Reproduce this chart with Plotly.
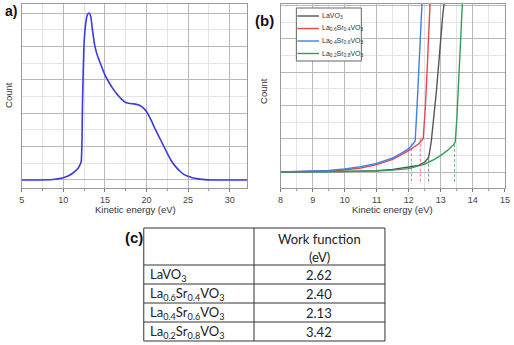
import plotly.graph_objects as go

W, H = 514, 345

# ---------------- data ----------------
# panel (a): single UPS spectrum
a_x = [5.0, 7.0, 8.5, 9.0, 9.5, 10.0, 10.5, 11.0, 11.5, 11.8, 12.0, 12.15, 12.25, 12.3, 12.4,
       12.5, 12.7, 12.9, 13.1, 13.3, 13.5, 13.8, 14.2, 14.6, 15.0, 15.5, 16.0, 16.5, 17.0,
       17.5, 18.0, 18.5, 19.0, 19.5, 20.0, 20.5, 21.0, 21.5, 22.0, 22.5, 23.0, 23.5, 24.0,
       24.5, 25.0, 25.5, 26.0, 27.0, 28.0, 32.1]
a_y = [0.0, 0.0, 0.005, 0.02, 0.04, 0.07, 0.11, 0.18, 0.28, 0.36, 0.45, 0.55, 1.2, 2.2, 3.3,
       4.1, 4.7, 4.95, 5.0, 4.9, 4.5, 4.0, 3.65, 3.4, 3.15, 2.92, 2.72, 2.56, 2.42,
       2.32, 2.29, 2.28, 2.25, 2.18, 2.05, 1.82, 1.55, 1.3, 1.05, 0.8, 0.57, 0.4, 0.27,
       0.17, 0.11, 0.07, 0.04, 0.01, 0.0, 0.0]
a_ticks = [5, 10, 15, 20, 25, 30]

# panel (b): secondary-electron cutoff region
series_names = ["LaVO<sub>3</sub>",
                "La<sub>0.6</sub>Sr<sub>0.4</sub>VO<sub>3</sub>",
                "La<sub>0.4</sub>Sr<sub>0.6</sub>VO<sub>3</sub>",
                "La<sub>0.2</sub>Sr<sub>0.8</sub>VO<sub>3</sub>"]
series_colors = ["#555555", "#e5474b", "#3f7fe6", "#2e9f5a"]

lavo_x = [8.0, 10.0, 11.0, 11.5, 12.0, 12.3, 12.5, 12.62, 12.7, 12.78, 12.86, 12.93, 13.0, 13.06, 13.12]
lavo_y = [0.0, 0.005, 0.02, 0.04, 0.075, 0.1, 0.15, 0.22, 0.45, 0.8, 1.2, 1.6, 2.05, 2.35, 2.6]

s04_x = [8.0, 9.0, 9.5, 10.0, 10.5, 11.0, 11.5, 12.0, 12.3, 12.45, 12.52, 12.58, 12.63, 12.67]
s04_y = [0.0, 0.008, 0.015, 0.03, 0.06, 0.11, 0.19, 0.32, 0.42, 0.5, 1.0, 1.6, 2.2, 2.6]

s06_x = [8.0, 9.0, 9.5, 10.0, 10.5, 11.0, 11.5, 11.8, 12.0, 12.15, 12.2, 12.26, 12.32, 12.37, 12.42]
s06_y = [0.0, 0.012, 0.025, 0.045, 0.08, 0.13, 0.21, 0.29, 0.35, 0.43, 0.47, 1.0, 1.6, 2.1, 2.6]

s08_x = [8.0, 10.0, 11.0, 11.5, 12.0, 12.5, 12.8, 13.0, 13.2, 13.4, 13.45, 13.5, 13.56, 13.6, 13.63, 13.68]
s08_y = [0.0, 0.004, 0.015, 0.028, 0.05, 0.12, 0.19, 0.25, 0.32, 0.41, 0.45, 0.8, 1.3, 1.8, 2.1, 2.6]

series_x = [lavo_x, s04_x, s06_x, s08_x]
series_y = [lavo_y, s04_y, s06_y, s08_y]

cutoff_x = [12.62, 12.36, 12.08, 13.43]
cutoff_top = [0.2, 0.5, 0.43, 0.42]
cutoff_bottom = -0.18
b_ticks = [8, 9, 10, 11, 12, 13, 14, 15]

# panel (c): table
table_header = ["", "Work function", "(eV)"]
table_names = ["LaVO<sub>3</sub>",
               "La<sub>0.6</sub>Sr<sub>0.4</sub>VO<sub>3</sub>",
               "La<sub>0.4</sub>Sr<sub>0.6</sub>VO<sub>3</sub>",
               "La<sub>0.2</sub>Sr<sub>0.8</sub>VO<sub>3</sub>"]
work_function = ["2.62", "2.40", "2.13", "3.42"]

# ---------------- helpers ----------------
def px(x):
    return x / W

def py(y):
    return 1 - y / H

fig = go.Figure()

fig.add_trace(go.Scatter(x=a_x, y=a_y, mode="lines", line=dict(color="#3b3bdc", width=1.6, shape="spline", smoothing=0.5),
                         xaxis="x", yaxis="y", showlegend=False))

for xs, ys, c in zip(series_x, series_y, series_colors):
    fig.add_trace(go.Scatter(x=xs, y=ys, mode="lines", line=dict(color=c, width=1.4),
                             xaxis="x2", yaxis="y2", showlegend=False))
for cx, ct, c in zip(cutoff_x, cutoff_top, series_colors):
    fig.add_trace(go.Scatter(x=[cx, cx], y=[ct, cutoff_bottom], mode="lines",
                             line=dict(color=c, width=1, dash="3px,2px"), opacity=0.7,
                             xaxis="x2", yaxis="y2", showlegend=False))

grid_major = "#b8b8b8"
grid_minor = "#e4e4e4"
frame = "#9a9a9a"
tickfont = dict(family="Arial, Liberation Sans", size=9, color="#444444")

def xax(domain, rng, ticks, dtick_minor, anchor):
    return dict(domain=domain, range=rng, anchor=anchor, tickvals=ticks, ticks="outside", ticklen=3,
                tickcolor="#777", tickfont=tickfont, showgrid=True, gridcolor=grid_major, gridwidth=1,
                showline=True, linecolor=frame, linewidth=1, mirror=True, zeroline=False,
                ticklabeloverflow="allow",
                minor=dict(dtick=dtick_minor, showgrid=True, gridcolor=grid_minor, ticks="outside", ticklen=2, tickcolor="#999"))

def yax(domain, rng, anchor, dtick, dminor):
    return dict(domain=domain, range=rng, anchor=anchor, dtick=dtick, showticklabels=False, ticks="",
                showgrid=True, gridcolor=grid_major, gridwidth=1, showline=True, linecolor=frame,
                linewidth=1, mirror=True, zeroline=False,
                minor=dict(dtick=dminor, showgrid=True, gridcolor=grid_minor))

fig.update_layout(
    width=W, height=H, margin=dict(l=0, r=0, t=0, b=0),
    paper_bgcolor="white", plot_bgcolor="white",
    xaxis=xax([px(19), px(248)], [5, 32.1], a_ticks, 2.5, "y"),
    yaxis=yax([py(188), py(4)], [-0.24, 5.27], "x", 1, 0.5),
    xaxis2=xax([px(282), px(510)], [8, 15.005], b_ticks, 0.5, "y2"),
    yaxis2=yax([py(188), py(4)], [-0.24, 2.52], "x2", 0.5, 0.25),
)

# legend for panel b (drawn by hand to match compact box)
shapes = [dict(type="rect", xref="paper", yref="paper", x0=px(298), x1=px(364), y0=py(61), y1=py(8),
               line=dict(color="#666666", width=1), fillcolor="white")]
leg_y = [16, 28.5, 41, 53.5]
annotations = []
for name, c, ly in zip(series_names, series_colors, leg_y):
    shapes.append(dict(type="line", xref="paper", yref="paper", x0=px(299), x1=px(321), y0=py(ly), y1=py(ly),
                       line=dict(color=c, width=1.4)))
    annotations.append(dict(text=name, xref="paper", yref="paper", x=px(322), y=py(ly), xanchor="left",
                            yanchor="middle", showarrow=False, font=dict(family="Arial, Liberation Sans", size=7, color="#333")))

# table (c) drawn with shapes + text
col_x = [143, 255, 388]
row_y = [228, 265, 284, 303, 322, 341]
tline = dict(color="#333333", width=1)
for yy in row_y:
    shapes.append(dict(type="line", xref="paper", yref="paper", x0=px(col_x[0]), x1=px(col_x[-1]),
                       y0=py(yy), y1=py(yy), line=tline))
for xx in col_x:
    shapes.append(dict(type="line", xref="paper", yref="paper", x0=px(xx), x1=px(xx),
                       y0=py(row_y[0]), y1=py(row_y[-1]), line=tline))
tfont = dict(family="Lato", size=13, color="#222222")
cx_right = (col_x[1] + col_x[2]) / 2
annotations.append(dict(text=table_header[1], xref="paper", yref="paper", x=px(cx_right), y=py(238.5),
                        xanchor="center", yanchor="middle", showarrow=False, font=tfont))
annotations.append(dict(text=table_header[2], xref="paper", yref="paper", x=px(cx_right), y=py(256.5),
                        xanchor="center", yanchor="middle", showarrow=False, font=tfont))
for i, (nm, wf) in enumerate(zip(table_names, work_function)):
    yc = (row_y[i + 1] + row_y[i + 2]) / 2
    annotations.append(dict(text=nm, xref="paper", yref="paper", x=px(col_x[0] + 4), y=py(yc),
                            xanchor="left", yanchor="middle", showarrow=False, font=tfont))
    annotations.append(dict(text=wf, xref="paper", yref="paper", x=px(cx_right), y=py(yc),
                            xanchor="center", yanchor="middle", showarrow=False, font=tfont))

label_font = dict(family="Arial, Liberation Sans", size=9.5, color="#333333")
annotations += [
    dict(text="Kinetic energy (eV)", xref="paper", yref="paper", x=px(135), y=py(209), showarrow=False,
         xanchor="center", yanchor="middle", font=label_font),
    dict(text="Kinetic energy (eV)", xref="paper", yref="paper", x=px(396), y=py(209), showarrow=False,
         xanchor="center", yanchor="middle", font=label_font),
    dict(text="Count", xref="paper", yref="paper", x=px(5), y=py(95), showarrow=False, textangle=-90,
         xanchor="center", yanchor="middle", font=label_font),
    dict(text="Count", xref="paper", yref="paper", x=px(264), y=py(91), showarrow=False, textangle=-90,
         xanchor="center", yanchor="middle", font=label_font),
    dict(text="<b>a)</b>", xref="paper", yref="paper", x=px(16), y=py(11), showarrow=False,
         xanchor="right", yanchor="middle", font=dict(family="Arial, Liberation Sans", size=14, color="#111")),
    dict(text="<b>(b)</b>", xref="paper", yref="paper", x=px(266), y=py(20), showarrow=False,
         xanchor="center", yanchor="middle", font=dict(family="Arial, Liberation Sans", size=15, color="#111")),
    dict(text="<b>(c)</b>", xref="paper", yref="paper", x=px(133), y=py(237), showarrow=False,
         xanchor="center", yanchor="middle", font=dict(family="Arial, Liberation Sans", size=15, color="#111")),
]
fig.update_layout(shapes=shapes, annotations=annotations)

fig.write_html("out.html")
